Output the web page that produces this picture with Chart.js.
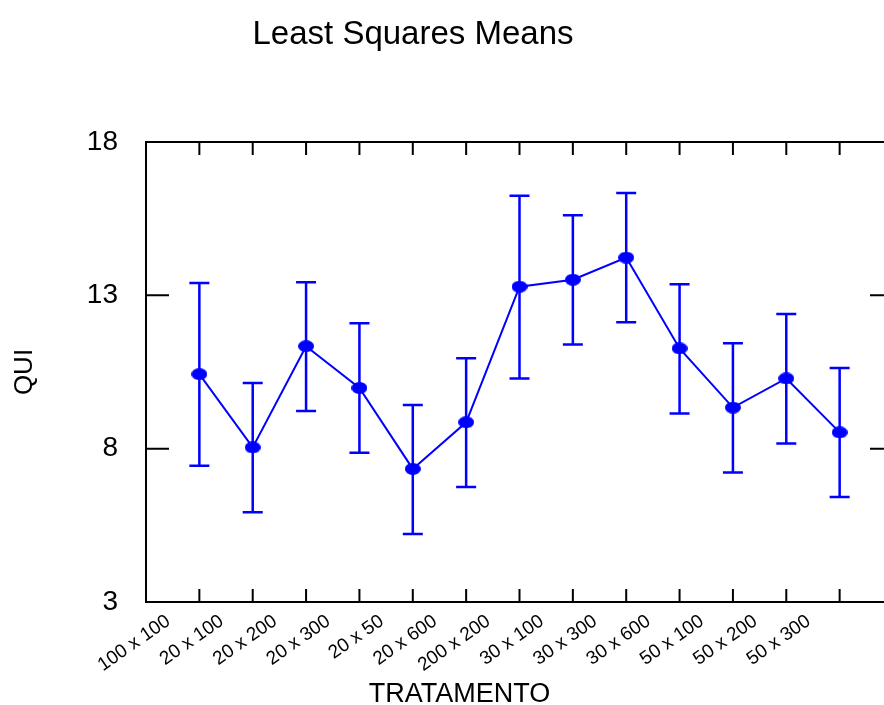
<!DOCTYPE html>
<html>
<head>
<meta charset="utf-8">
<script src="https://cdn.jsdelivr.net/npm/chart.js@4.4.1/dist/chart.umd.min.js"></script>
<style>
  html, body { margin: 0; padding: 0; overflow: hidden; background: #ffffff; }
</style>
</head>
<body>
<canvas id="chart" width="920" height="705"></canvas>
<script>
// Least squares means of QUI by TRATAMENTO, with error bars
const categories = ['100 x 100', '20 x 100', '20 x 200', '20 x 300', '20 x 50', '20 x 600',
    '200 x 200', '30 x 100', '30 x 300', '30 x 600', '50 x 100', '50 x 200', '50 x 300'];
const means = [10.43, 8.04, 11.34, 9.98, 7.34, 8.86, 13.28, 13.51, 14.23, 11.27, 9.34, 10.29, 8.53];
const upper = [13.40, 10.14, 13.43, 12.09, 9.42, 10.95, 16.25, 15.61, 16.34, 13.36, 11.44, 12.39, 10.63];
const lower = [7.44, 5.93, 9.23, 7.87, 5.22, 6.75, 10.29, 11.40, 12.12, 9.15, 7.22, 8.17, 6.42];
const yTicks = [3, 8, 13, 18];

const FONT = "'Liberation Sans', Arial, sans-serif";
const BLUE = '#0000ff';

function ellipseDot(w, h) {
    const c = document.createElement('canvas');
    c.width = w;
    c.height = h;
    const ctx = c.getContext('2d');
    ctx.fillStyle = BLUE;
    ctx.beginPath();
    ctx.ellipse(w / 2, h / 2, w / 2, h / 2, 0, 0, Math.PI * 2);
    ctx.fill();
    return c;
}

const framePlugin = {
    id: 'frame',
    beforeDatasetsDraw(chart) {
        const { ctx, scales: { x, y } } = chart;
        ctx.save();
        ctx.strokeStyle = BLUE;
        ctx.lineWidth = 2.5;
        means.forEach((m, i) => {
            const px = x.getPixelForValue(i + 1);
            const top = y.getPixelForValue(upper[i]);
            const bot = y.getPixelForValue(lower[i]);
            ctx.beginPath();
            ctx.moveTo(px, top);
            ctx.lineTo(px, bot);
            ctx.moveTo(px - 10, top);
            ctx.lineTo(px + 10, top);
            ctx.moveTo(px - 10, bot);
            ctx.lineTo(px + 10, bot);
            ctx.stroke();
        });
        ctx.restore();
    },
    afterDraw(chart) {
        const { ctx, chartArea: a, scales: { x, y } } = chart;
        ctx.save();
        ctx.strokeStyle = '#000000';
        ctx.lineWidth = 2;
        ctx.strokeRect(a.left, a.top, a.right - a.left, a.bottom - a.top);
        ctx.beginPath();
        yTicks.forEach(v => {
            const py = y.getPixelForValue(v);
            ctx.moveTo(a.left, py);
            ctx.lineTo(a.left + 23, py);
            ctx.moveTo(a.right, py);
            ctx.lineTo(a.right - 23, py);
        });
        categories.forEach((c, i) => {
            const px = x.getPixelForValue(i + 1);
            ctx.moveTo(px, a.top);
            ctx.lineTo(px, a.top + 13);
            ctx.moveTo(px, a.bottom);
            ctx.lineTo(px, a.bottom - 13);
        });
        ctx.stroke();

        ctx.fillStyle = '#000000';
        ctx.textAlign = 'center';
        ctx.textBaseline = 'alphabetic';
        ctx.font = `33px ${FONT}`;
        ctx.fillText('Least Squares Means', 413, 44);
        ctx.font = `27px ${FONT}`;
        ctx.fillText('TRATAMENTO', 459.5, 701.5);
        ctx.restore();
    }
};

new Chart(document.getElementById('chart'), {
    type: 'line',
    data: {
        datasets: [{
            data: means.map((m, i) => ({ x: i + 1, y: m })),
            borderColor: BLUE,
            borderWidth: 2,
            pointStyle: ellipseDot(16, 12),
            pointRadius: 6,
            pointHoverRadius: 6,
            tension: 0,
        }],
    },
    options: {
        responsive: false,
        animation: false,
        events: [],
        layout: { padding: { left: 0, top: 142, right: 27, bottom: 0 } },
        plugins: {
            legend: { display: false },
            tooltip: { enabled: false },
        },
        scales: {
            x: {
                type: 'linear',
                min: 0,
                max: 14,
                grid: { display: false, drawTicks: false },
                border: { display: false },
                afterBuildTicks: (scale) => {
                    scale.ticks = [{ value: 0 }, ...categories.map((c, i) => ({ value: i + 1 })), { value: 14 }];
                },
                afterFit: (scale) => { scale.height = 103; },
                ticks: {
                    autoSkip: false,
                    minRotation: 35,
                    maxRotation: 35,
                    padding: 8,
                    labelOffset: -31,
                    color: '#000000',
                    font: { family: FONT, size: 19 },
                    callback: (v) => categories[v - 1] || '',
                },
            },
            y: {
                min: 3,
                max: 18,
                grid: { display: false, drawTicks: false },
                border: { display: false },
                afterBuildTicks: (scale) => {
                    scale.ticks = yTicks.map(v => ({ value: v }));
                },
                afterFit: (scale) => { scale.width = 146; },
                ticks: {
                    padding: 28,
                    color: '#000000',
                    font: { family: FONT, size: 28 },
                },
                title: {
                    display: true,
                    text: 'QUI',
                    color: '#000000',
                    font: { family: FONT, size: 26 },
                    padding: { top: 9, bottom: 0 },
                },
            },
        },
    },
    plugins: [framePlugin],
});
</script>
</body>
</html>
